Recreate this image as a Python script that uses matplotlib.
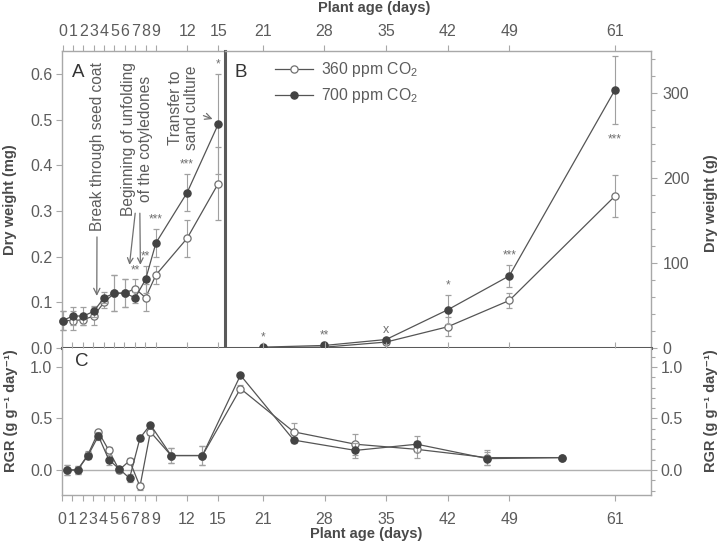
import matplotlib
matplotlib.use('Agg')
import matplotlib.pyplot as plt
import numpy as np
from matplotlib.ticker import MultipleLocator, FixedLocator
from matplotlib.lines import Line2D

plt.rcParams['font.family'] = ['Liberation Sans', 'DejaVu Sans']
plt.rcParams['mathtext.fontset'] = 'custom'
plt.rcParams['mathtext.rm'] = 'Liberation Sans'
plt.rcParams['mathtext.it'] = 'Liberation Sans:italic'
plt.rcParams['mathtext.bf'] = 'Liberation Sans:bold'

# ---------------- data ----------------
# Panel A: dry weight (mg), days 0-15
days_a = [0, 1, 2, 3, 4, 5, 6, 7, 8, 9, 12, 15]
a_360 = [0.06, 0.06, 0.062, 0.07, 0.10, 0.12, 0.12, 0.13, 0.11, 0.16, 0.24, 0.36]
a_360_err = [0.02, 0.02, 0.012, 0.02, 0.012, 0.04, 0.03, 0.02, 0.03, 0.02, 0.04, 0.08]
a_700 = [0.06, 0.07, 0.07, 0.08, 0.11, 0.12, 0.12, 0.11, 0.15, 0.23, 0.34, 0.49]
a_700_err = [0.02, 0.02, 0.02, 0.012, 0.012, 0.04, 0.03, 0.012, 0.03, 0.03, 0.04, 0.11]
a_sig_days = [7, 8, 9, 12, 15]
a_sig = ['**', '**', '***', '***', '*']

# Panel B: dry weight (g), days 21-61
days_b = [21, 28, 35, 42, 49, 61]
b_360 = [0.5, 1, 7, 25, 56, 179]
b_360_err = [0.3, 0.5, 1.5, 11, 9, 25]
b_700 = [1, 3, 10, 45, 85, 304]
b_700_err = [0.6, 1, 2, 17, 13, 40]
b_sig = ['*', '**', 'x', '*', '***', '***']

# Panel C: RGR
days_c = [0.5, 1.5, 2.5, 3.5, 4.5, 5.5, 6.5, 7.5, 8.5, 10.5, 13.5, 18, 24.5, 31.5, 38.5, 46.5, 55]
c_360 = [0.0, 0.0, 0.15, 0.37, 0.19, 0.0, 0.09, -0.16, 0.37, 0.14, 0.14, 0.79, 0.37, 0.25, 0.20, 0.12, 0.12]
c_360_err = [0.05, 0.04, 0.03, 0.02, 0.03, 0.03, 0.03, 0.03, 0.03, 0.07, 0.095, 0.03, 0.09, 0.10, 0.08, 0.07, 0.02]
c_700 = [0.0, 0.0, 0.14, 0.33, 0.10, 0.01, -0.08, 0.31, 0.44, 0.14, 0.14, 0.92, 0.29, 0.19, 0.25, 0.11, 0.12]
c_700_err = [0.05, 0.04, 0.03, 0.04, 0.05, 0.02, 0.04, 0.03, 0.02, 0.07, 0.095, 0.02, 0.03, 0.07, 0.08, 0.06, 0.02]

ticks_a = [0, 1, 2, 3, 4, 5, 6, 7, 8, 9, 12, 15]
ticks_b = [21, 28, 35, 42, 49, 61]
labels = ['360 ppm CO$_2$', '700 ppm CO$_2$']

# ---------------- style ----------------
LINE = '#555555'
FILL = '#434343'
ERR = '#a0a0a0'
OPEN_EDGE = '#707070'
SPINE = '#a8a8a8'
DARK = '#5a5a5a'
TXT = '#5c5c5c'
LAB = '#4a4a4a'
FS = 11.5
W, H = 720, 545

fig = plt.figure(figsize=(W / 100, H / 100), dpi=100)


def px_rect(l, t, r, b):
    return [l / W, 1 - b / H, (r - l) / W, (b - t) / H]


ax_a = fig.add_axes(px_rect(62, 51, 225, 348))
ax_b = fig.add_axes(px_rect(225, 51, 651, 348))
ax_c = fig.add_axes(px_rect(62, 348, 651, 495))


def series(ax, x, y, e, filled, z):
    ax.errorbar(x, y, yerr=e, fmt='-o', color=LINE, lw=0.9, ms=5.2,
                mfc=FILL if filled else 'white', mec=FILL if filled else OPEN_EDGE,
                mew=0.9, ecolor=ERR, elinewidth=0.8, capsize=2.3, capthick=0.8,
                clip_on=False, zorder=z)


def style_ticks(ax):
    ax.tick_params(which='both', direction='out', color=SPINE, width=0.8,
                   labelcolor=TXT, labelsize=FS)
    ax.tick_params(which='major', length=4)
    ax.tick_params(which='minor', length=3)
    for s in ax.spines.values():
        s.set_color(SPINE)
        s.set_linewidth(1.0)


# ---- Panel A ----
series(ax_a, days_a, a_360, a_360_err, False, 3)
series(ax_a, days_a, a_700, a_700_err, True, 4)
ax_a.set_xlim(-0.05, 15.65)
ax_a.set_ylim(0, 0.65)
style_ticks(ax_a)
ax_a.xaxis.tick_top()
ax_a.set_xticks(ticks_a)
ax_a.set_yticks(np.arange(0, 0.61, 0.1))
ax_a.set_yticklabels([f'{v:.1f}' for v in np.arange(0, 0.61, 0.1)])
ax_a.tick_params(axis='x', pad=4.5)
ax_a.tick_params(axis='y', pad=3)
ax_a.spines['right'].set_visible(False)
ax_a.spines['bottom'].set_color(DARK)
ax_a.spines['bottom'].set_linewidth(2.2)
ax_a.text(0.06, 0.955, 'A', transform=ax_a.transAxes, fontsize=13.5, color='#333333',
          ha='left', va='top')
for d, s in zip(a_sig_days, a_sig):
    i = days_a.index(d)
    top = max(a_360[i] + a_360_err[i], a_700[i] + a_700_err[i])
    ax_a.annotate(s, xy=(d, top), xytext=(0, 2.5), textcoords='offset points',
                  ha='center', va='bottom', fontsize=8.5, color='#707070')

ax_a.annotate('Break through seed coat', xy=(3.3, 0.114), xytext=(3.35, 0.44),
              rotation=90, ha='center', va='center', fontsize=11.2, color=TXT,
              arrowprops=dict(arrowstyle='->', color='#707070', lw=0.9, shrinkA=2, shrinkB=0))
ax_a.text(7.2, 0.457, 'Beginning of unfolding\nof the cotyledones', rotation=90,
          ha='center', va='center', fontsize=11.2, color=TXT, linespacing=1.15)
ax_a.annotate('', xy=(6.45, 0.182), xytext=(7.0, 0.295),
              arrowprops=dict(arrowstyle='->', color='#707070', lw=0.9, shrinkA=0, shrinkB=0))
ax_a.annotate('', xy=(7.5, 0.182), xytext=(7.45, 0.295),
              arrowprops=dict(arrowstyle='->', color='#707070', lw=0.9, shrinkA=0, shrinkB=0))
ax_a.annotate('Transfer to\nsand culture', xy=(14.7, 0.499), xytext=(11.65, 0.525),
              rotation=90, ha='center', va='center', fontsize=11.2, color=TXT,
              linespacing=1.15,
              arrowprops=dict(arrowstyle='->', color='#707070', lw=0.9, shrinkA=1, shrinkB=2))

# ---- Panel B ----
series(ax_b, days_b, b_360, b_360_err, False, 3)
series(ax_b, days_b, b_700, b_700_err, True, 4)
ax_b.set_xlim(16.7, 65.1)
ax_b.set_ylim(0, 350)
style_ticks(ax_b)
ax_b.xaxis.tick_top()
ax_b.set_xticks(ticks_b)
ax_b.yaxis.tick_right()
ax_b.set_yticks([0, 100, 200, 300])
ax_b.yaxis.set_minor_locator(MultipleLocator(20))
ax_b.tick_params(axis='x', pad=4.5)
ax_b.tick_params(axis='y', pad=4.5)
ax_b.spines['left'].set_color(DARK)
ax_b.spines['left'].set_linewidth(2.2)
ax_b.spines['bottom'].set_color(DARK)
ax_b.spines['bottom'].set_linewidth(2.2)
ax_b.text(0.022, 0.955, 'B', transform=ax_b.transAxes, fontsize=13.5, color='#333333',
          ha='left', va='top')
for i, (d, s) in enumerate(zip(days_b, b_sig)):
    if i == len(days_b) - 1:
        y = b_700[i] - b_700_err[i]
        ax_b.annotate(s, xy=(d, y), xytext=(0, -7), textcoords='offset points',
                      ha='center', va='top', fontsize=8.5, color='#707070')
    else:
        top = max(b_360[i] + b_360_err[i], b_700[i] + b_700_err[i])
        ax_b.annotate(s, xy=(d, top), xytext=(0, 2.5 if s != 'x' else 1.5),
                      textcoords='offset points',
                      ha='center', va='bottom', fontsize=8.5 if s != 'x' else 9,
                      color='#707070')

handles = [Line2D([], [], color=LINE, lw=0.9, marker='o', ms=5.2, mfc='white', mec=OPEN_EDGE, mew=0.9),
           Line2D([], [], color=LINE, lw=0.9, marker='o', ms=5.2, mfc=FILL, mec=FILL, mew=0.9)]
leg = ax_b.legend(handles, labels, loc='upper left', bbox_to_anchor=(275 / W, 1 - 60 / H),
                  bbox_transform=fig.transFigure, frameon=False, fontsize=11.3,
                  handlelength=2.4, handletextpad=0.55, labelspacing=0.45,
                  borderpad=0, borderaxespad=0, numpoints=1)
for t in leg.get_texts():
    t.set_color(TXT)

# ---- Panel C (piecewise day scale) ----
kd = np.array([-10.0, 0.0, 15.0, 21.0, 61.0, 100.0])
kp = np.array([62 - 104.0, 62.0, 218.0, 263.0, 615.0, 615.0 + 39 * 8.81])


def fwd(x):
    return np.interp(x, kd, kp)


def inv(y):
    return np.interp(y, kp, kd)


ax_c.set_xscale('function', functions=(fwd, inv))
ax_c.axhline(0, color='#b0b0b0', lw=1.0, zorder=1)
series(ax_c, days_c, c_360, c_360_err, False, 3)
series(ax_c, days_c, c_700, c_700_err, True, 4)
ax_c.set_xlim(0, 65.1)
ax_c.set_ylim(-0.243, 1.184)
style_ticks(ax_c)
ax_c.xaxis.set_major_locator(FixedLocator(ticks_a + ticks_b))
ax_c.xaxis.set_minor_locator(FixedLocator([]))
ax_c.set_xticklabels([str(t) for t in ticks_a + ticks_b])
ax_c.tick_params(axis='x', top=True, labeltop=False, pad=8)
ax_c.set_yticks([0, 0.5, 1.0])
ax_c.set_yticklabels(['0.0', '0.5', '1.0'])
ax_c.yaxis.set_minor_locator(MultipleLocator(0.1))
ax_c.tick_params(axis='y', right=True, labelright=True, pad=3)
ax_c.tick_params(axis='y', which='minor', left=False, right=True)
ax_c.spines['top'].set_visible(False)
ax_c.text(0.022, 0.965, 'C', transform=ax_c.transAxes, fontsize=13.5, color='#333333',
          ha='left', va='top')

# ---- axis labels ----
kw = dict(fontsize=10.5, fontweight='bold', color=LAB, ha='center', va='center')
fig.text(374 / W, 1 - 8 / H, 'Plant age (days)', **kw)
fig.text(366 / W, 1 - 534 / H, 'Plant age (days)', **kw)
fig.text(10 / W, 1 - 200 / H, 'Dry weight (mg)', rotation=90, **kw)
fig.text(711 / W, 1 - 203 / H, 'Dry weight (g)', rotation=90, **kw)
fig.text(11 / W, 1 - 411 / H, 'RGR (g g⁻¹ day⁻¹)', rotation=90, **kw)
fig.text(711 / W, 1 - 411 / H, 'RGR (g g⁻¹ day⁻¹)', rotation=90, **kw)

fig.savefig('out.png', dpi=100)
